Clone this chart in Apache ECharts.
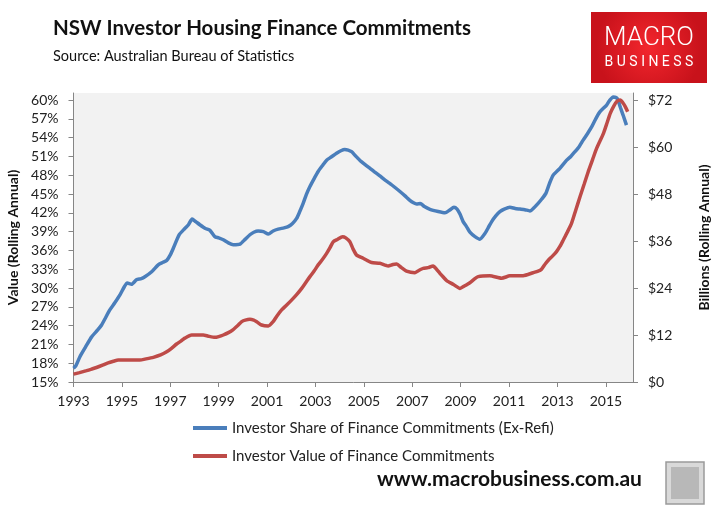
<!DOCTYPE html>
<html lang="en">
<head>
    <meta charset="UTF-8">
    <title>NSW Investor Housing Finance Commitments</title>
    <script src="https://cdn.jsdelivr.net/npm/echarts@6/dist/echarts.min.js"></script>
    <style>
        * {
            margin: 0;
            padding: 0;
            box-sizing: border-box;
        }

        body {
            background: #ffffff;
        }

        #chart {
            width: 725px;
            height: 507px;
        }
    </style>
</head>
<body>
    <div id="chart"></div>

    <script>
        // tick labels
        const yearTicks = [1993, 1995, 1997, 1999, 2001, 2003, 2005, 2007, 2009, 2011, 2013, 2015];
        const shareTicks = [15, 18, 21, 24, 27, 30, 33, 36, 39, 42, 45, 48, 51, 54, 57, 60];
        const valueTicks = [0, 12, 24, 36, 48, 60, 72];

        // investor share of commitments, %
        const shareYears = [
            1993.0, 1993.1, 1993.26, 1993.5, 1993.75, 1994.0, 1994.16, 1994.5, 1994.7, 1994.92,
            1995.1, 1995.22, 1995.4, 1995.6, 1995.8, 1995.95, 1996.23, 1996.5, 1996.7, 1996.85,
            1997.0, 1997.12, 1997.37, 1997.6, 1997.75, 1997.9, 1998.05, 1998.22, 1998.45, 1998.64,
            1998.84, 1999.0, 1999.19, 1999.4, 1999.6, 1999.88, 2000.1, 2000.29, 2000.45, 2000.63,
            2000.85, 2001.05, 2001.25, 2001.46, 2001.7, 2001.87, 2002.05, 2002.22, 2002.35, 2002.49,
            2002.62, 2002.77, 2002.95, 2003.11, 2003.3, 2003.46, 2003.65, 2003.87, 2004.05, 2004.21,
            2004.35, 2004.49, 2004.65, 2004.83, 2005.05, 2005.25, 2005.45, 2005.66, 2005.85, 2006.07,
            2006.3, 2006.49, 2006.7, 2006.9, 2007.05, 2007.18, 2007.33, 2007.5, 2007.73, 2008.07,
            2008.35, 2008.55, 2008.72, 2008.85, 2008.97, 2009.1, 2009.24, 2009.38, 2009.59, 2009.79,
            2010.0, 2010.15, 2010.28, 2010.45, 2010.62, 2010.8, 2011.03, 2011.25, 2011.45, 2011.65,
            2011.86, 2012.05, 2012.2, 2012.35, 2012.52, 2012.68, 2012.82, 2013.1, 2013.38, 2013.55,
            2013.72, 2013.9, 2014.06, 2014.25, 2014.41, 2014.58, 2014.75, 2015.03, 2015.15, 2015.3,
            2015.42, 2015.5, 2015.6, 2015.71, 2015.85
        ];
        const shareValues = [
            17.2, 17.6, 19.0, 20.6, 22.2, 23.3, 24.1, 26.5, 27.6, 28.9,
            30.2, 30.8, 30.6, 31.3, 31.5, 31.8, 32.6, 33.7, 34.1, 34.4,
            35.3, 36.3, 38.5, 39.5, 40.1, 41.0, 40.6, 40.1, 39.5, 39.2,
            38.2, 38.0, 37.7, 37.2, 36.9, 37.0, 37.8, 38.5, 38.9, 39.1,
            39.0, 38.6, 39.1, 39.4, 39.6, 39.8, 40.3, 41.1, 42.2, 43.5,
            44.9, 46.2, 47.5, 48.6, 49.6, 50.4, 50.9, 51.5, 51.9, 52.1,
            52.0, 51.75, 51.1, 50.4, 49.7, 49.1, 48.5, 47.9, 47.3, 46.7,
            46.0, 45.4, 44.7, 44.0, 43.6, 43.4, 43.5, 43.0, 42.55, 42.2,
            42.0, 42.45, 42.9, 42.6, 41.8, 40.6, 39.8, 38.9, 38.2, 37.8,
            38.7, 39.7, 40.6, 41.5, 42.2, 42.6, 42.9, 42.7, 42.6, 42.5,
            42.3, 42.9, 43.5, 44.2, 45.1, 46.8, 48.0, 49.1, 50.4, 51.0,
            51.75, 52.6, 53.6, 54.7, 55.7, 57.0, 58.1, 59.2, 59.9, 60.5,
            60.4, 60.0, 58.8, 57.6, 56.0
        ];

        // investor value of commitments, $bn rolling annual
        const valueYears = [
            1993.0, 1993.25, 1993.54, 1993.75, 1993.95, 1994.2, 1994.43, 1994.65, 1994.85, 1995.3,
            1995.74, 1996.0, 1996.3, 1996.6, 1996.85, 1997.05, 1997.26, 1997.45, 1997.6, 1997.88,
            1998.1, 1998.36, 1998.57, 1998.84, 1999.0, 1999.19, 1999.4, 1999.6, 1999.8, 1999.95,
            2000.1, 2000.29, 2000.45, 2000.57, 2000.77, 2001.05, 2001.25, 2001.4, 2001.6, 2001.8,
            2002.01, 2002.22, 2002.43, 2002.6, 2002.77, 2002.95, 2003.11, 2003.3, 2003.46, 2003.6,
            2003.73, 2003.9, 2004.12, 2004.25, 2004.42, 2004.55, 2004.7, 2004.97, 2005.15, 2005.32,
            2005.66, 2006.0, 2006.2, 2006.35, 2006.55, 2006.76, 2007.11, 2007.3, 2007.45, 2007.65,
            2007.86, 2008.0, 2008.14, 2008.28, 2008.42, 2008.7, 2008.97, 2009.15, 2009.38, 2009.55,
            2009.72, 2010.2, 2010.69, 2011.03, 2011.58, 2011.99, 2012.2, 2012.34, 2012.5, 2012.62,
            2012.8, 2012.96, 2013.1, 2013.24, 2013.4, 2013.58, 2013.75, 2013.93, 2014.1, 2014.27,
            2014.45, 2014.62, 2014.9, 2015.05, 2015.18, 2015.32, 2015.45, 2015.59, 2015.7, 2015.8,
            2015.9
        ];
        const valueValues = [
            2.0, 2.4, 2.9, 3.3, 3.7, 4.3, 4.9, 5.3, 5.6, 5.6,
            5.6, 5.9, 6.3, 6.9, 7.7, 8.6, 9.7, 10.5, 11.2, 12.0,
            12.0, 12.0, 11.7, 11.4, 11.6, 12.0, 12.6, 13.4, 14.5, 15.4,
            15.8, 16.0, 15.8, 15.4, 14.55, 14.3, 15.4, 16.8, 18.4, 19.6,
            20.9, 22.3, 23.9, 25.4, 26.9, 28.4, 29.9, 31.4, 32.85, 34.3,
            35.8, 36.4, 37.1, 36.8, 35.8, 34.0, 32.4, 31.6, 31.0, 30.5,
            30.3, 29.6, 30.0, 30.1, 29.2, 28.3, 27.9, 28.6, 29.0, 29.2,
            29.6, 28.8, 27.75, 26.8, 25.9, 24.9, 23.9, 24.5, 25.35, 26.2,
            26.9, 27.1, 26.5, 27.1, 27.15, 27.9, 28.3, 28.8, 30.2, 31.1,
            32.2, 33.3, 34.6, 36.25, 38.2, 40.5, 43.8, 47.3, 50.5, 53.7,
            56.8, 59.7, 63.5, 66.2, 68.6, 70.4, 71.6, 72.0, 71.3, 70.3,
            69.0
        ];

        const shareName = 'Investor Share of Finance Commitments (Ex-Refi)';
        const valueName = 'Investor Value of Finance Commitments';

        const font = 'Lato, "Open Sans", sans-serif';
        const axisGrey = '#868686';

        const chart = echarts.init(document.getElementById('chart'), null, { renderer: 'canvas' });

        chart.setOption({
            animation: false,
            backgroundColor: '#ffffff',
            textStyle: { fontFamily: font },
            grid: {
                left: 73.5,
                right: 92,
                top: 93,
                bottom: 125,
                show: true,
                backgroundColor: '#f2f2f2',
                borderWidth: 0,
                outerBoundsMode: 'none'
            },
            legend: {
                orient: 'vertical',
                left: 188,
                top: 414,
                icon: 'rect',
                itemWidth: 34,
                itemHeight: 4,
                itemGap: 10,
                data: [shareName, valueName],
                textStyle: { fontFamily: font, fontSize: 15, color: '#222', lineHeight: 18 }
            },
            xAxis: {
                type: 'value',
                min: 1993,
                max: 2016.12,
                axisLine: { lineStyle: { color: axisGrey, width: 1 } },
                axisTick: { length: 5, customValues: yearTicks, lineStyle: { color: axisGrey } },
                axisLabel: {
                    customValues: yearTicks,
                    margin: 12,
                    fontSize: 14,
                    color: '#222',
                    formatter: v => String(Math.round(v))
                },
                splitLine: { show: false }
            },
            yAxis: [{
                type: 'value',
                position: 'left',
                min: 15,
                max: 61.12,
                name: 'Value (Rolling Annual)',
                nameLocation: 'middle',
                nameGap: 50,
                nameRotate: 90,
                nameTextStyle: { fontSize: 14, fontWeight: 'bold', color: '#111' },
                axisLine: { show: true, lineStyle: { color: axisGrey } },
                axisTick: { show: true, length: 5, customValues: shareTicks, lineStyle: { color: axisGrey } },
                axisLabel: {
                    customValues: shareTicks,
                    margin: 15,
                    fontSize: 14,
                    color: '#222',
                    formatter: v => v + '%'
                },
                splitLine: { show: false }
            }, {
                type: 'value',
                position: 'right',
                min: 0,
                max: 73.79,
                name: 'Billions (Rolling Annual)',
                nameLocation: 'middle',
                nameGap: 64,
                nameRotate: 90,
                nameTextStyle: { fontSize: 14, fontWeight: 'bold', color: '#111' },
                axisLine: { show: true, lineStyle: { color: axisGrey } },
                axisTick: { show: true, length: 5, customValues: valueTicks, lineStyle: { color: axisGrey } },
                axisLabel: {
                    customValues: valueTicks,
                    margin: 15,
                    fontSize: 14,
                    color: '#222',
                    formatter: v => '$' + v
                },
                splitLine: { show: false }
            }],
            series: [{
                name: shareName,
                type: 'line',
                yAxisIndex: 0,
                data: shareYears.map((y, i) => [y, shareValues[i]]),
                showSymbol: false,
                smooth: 0.2,
                color: '#4a7ebb',
                lineStyle: { width: 3.5, color: '#4a7ebb' },
                z: 2
            }, {
                name: valueName,
                type: 'line',
                yAxisIndex: 1,
                data: valueYears.map((y, i) => [y, valueValues[i]]),
                showSymbol: false,
                smooth: 0.2,
                color: '#be4b48',
                lineStyle: { width: 3.5, color: '#be4b48' },
                z: 3
            }],
            graphic: [
                // title + source
                {
                    type: 'text', left: 53, top: 18,
                    style: { text: 'NSW Investor Housing Finance Commitments', font: 'bold 20.5px ' + font, fill: '#111' }
                },
                {
                    type: 'text', left: 53, top: 49,
                    style: { text: 'Source: Australian Bureau of Statistics', font: '14.5px ' + font, fill: '#111' }
                },
                // MACRO BUSINESS badge
                {
                    type: 'rect',
                    shape: { x: 591, y: 12, width: 116, height: 71 },
                    style: {
                        fill: {
                            type: 'radial', x: 0.5, y: 0.5, r: 0.75,
                            colorStops: [
                                { offset: 0, color: '#f3262d' },
                                { offset: 1, color: '#c8121b' }
                            ]
                        }
                    }
                },
                {
                    type: 'text', x: 649, y: 38,
                    style: {
                        text: 'MACRO', font: '300 26px Roboto, sans-serif', fill: '#ffffff',
                        align: 'center', verticalAlign: 'middle'
                    }
                },
                {
                    type: 'text', x: 649, y: 62,
                    style: {
                        text: 'B U S I N E S S', font: '14px Roboto, sans-serif', fill: '#ffffff',
                        align: 'center', verticalAlign: 'middle'
                    }
                },
                // footer
                {
                    type: 'text', left: 377, top: 469,
                    style: { text: 'www.macrobusiness.com.au', font: 'bold 21px ' + font, fill: '#111' }
                },
                {
                    type: 'rect',
                    shape: { x: 666, y: 462, width: 38, height: 42 },
                    style: { fill: '#d9d9d9', stroke: '#9a9a9a', lineWidth: 1.5 }
                },
                {
                    type: 'rect',
                    shape: { x: 671, y: 467, width: 28, height: 32 },
                    style: { fill: '#b8b8b8' }
                }
            ]
        });

        window.addEventListener('resize', function() {
            chart.resize();
        });
    </script>
</body>
</html>
